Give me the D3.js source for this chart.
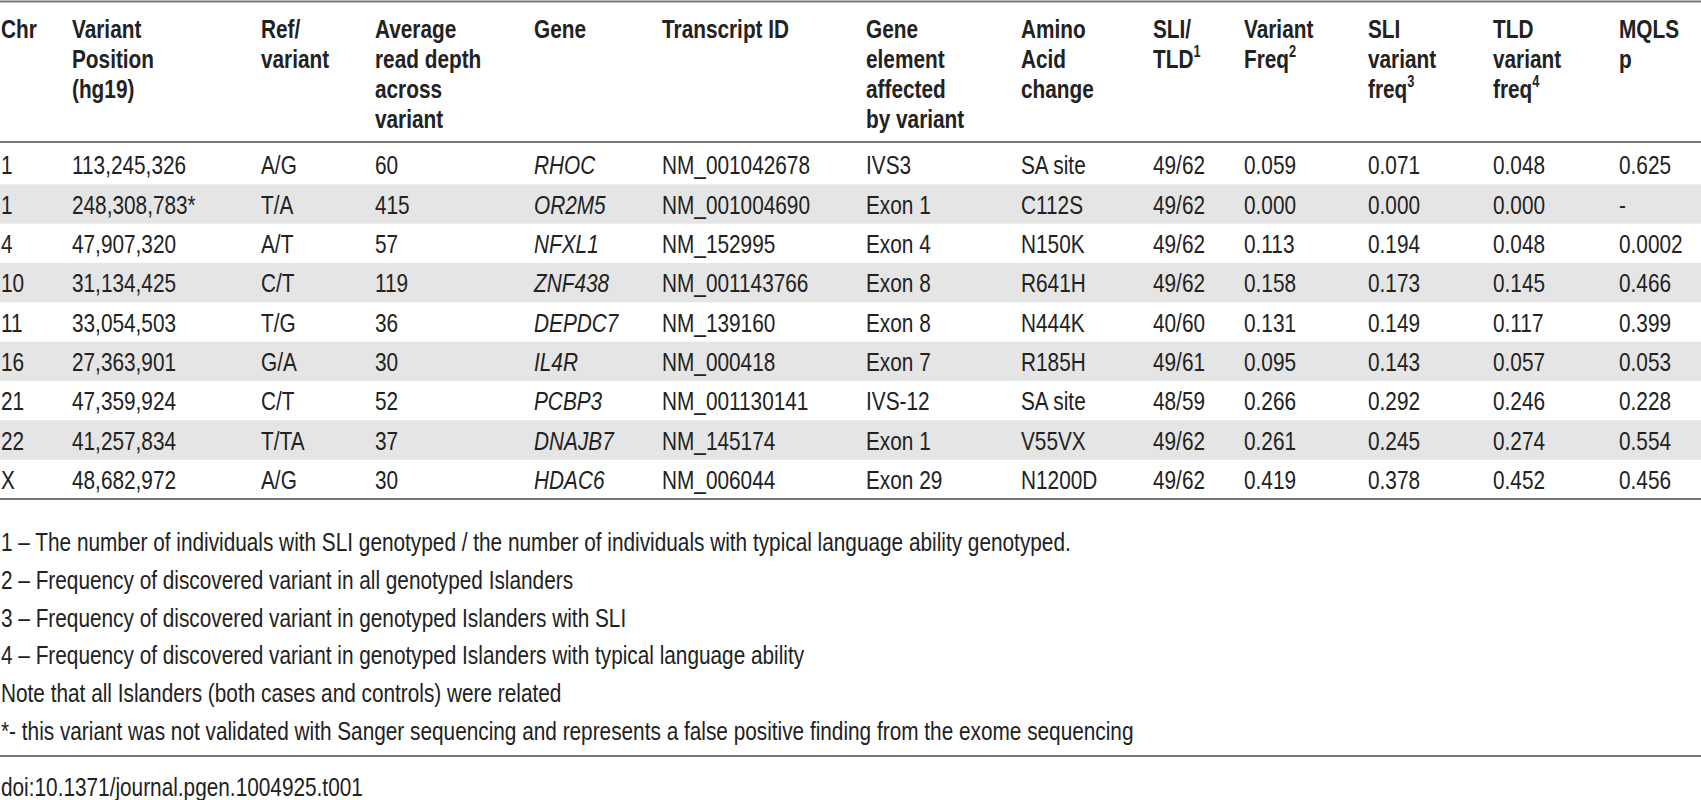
<!DOCTYPE html><html><head><meta charset="utf-8">
<script src="https://cdn.jsdelivr.net/npm/d3@7"></script>
<style>body{margin:0;background:#fff}text{font-family:"Liberation Sans",Arial,sans-serif;font-size:26px;fill:#222}</style></head><body>
<svg id="s" width="1701" height="800"></svg>
<script>
const headers=[["Chr"],["Variant","Position","(hg19)"],["Ref/","variant"],["Average","read depth","across","variant"],["Gene"],["Transcript ID"],["Gene","element","affected","by variant"],["Amino","Acid","change"],["SLI/","TLD^1"],["Variant","Freq^2"],["SLI","variant","freq^3"],["TLD","variant","freq^4"],["MQLS","p"]];
const chr=["1","1","4","10","11","16","21","22","X"];
const pos=["113,245,326","248,308,783*","47,907,320","31,134,425","33,054,503","27,363,901","47,359,924","41,257,834","48,682,972"];
const refv=["A/G","T/A","A/T","C/T","T/G","G/A","C/T","T/TA","A/G"];
const depth=["60","415","57","119","36","30","52","37","30"];
const gene=["RHOC","OR2M5","NFXL1","ZNF438","DEPDC7","IL4R","PCBP3","DNAJB7","HDAC6"];
const transcript=["NM_001042678","NM_001004690","NM_152995","NM_001143766","NM_139160","NM_000418","NM_001130141","NM_145174","NM_006044"];
const element=["IVS3","Exon 1","Exon 4","Exon 8","Exon 8","Exon 7","IVS-12","Exon 1","Exon 29"];
const aa=["SA site","C112S","N150K","R641H","N444K","R185H","SA site","V55VX","N1200D"];
const slitld=["49/62","49/62","49/62","49/62","40/60","49/61","48/59","49/62","49/62"];
const vfreq=["0.059","0.000","0.113","0.158","0.131","0.095","0.266","0.261","0.419"];
const slifreq=["0.071","0.000","0.194","0.173","0.149","0.143","0.292","0.245","0.378"];
const tldfreq=["0.048","0.000","0.048","0.145","0.117","0.057","0.246","0.274","0.452"];
const mqls=["0.625","-","0.0002","0.466","0.399","0.053","0.228","0.554","0.456"];
const notes=["1 – The number of individuals with SLI genotyped / the number of individuals with typical language ability genotyped.","2 – Frequency of discovered variant in all genotyped Islanders","3 – Frequency of discovered variant in genotyped Islanders with SLI","4 – Frequency of discovered variant in genotyped Islanders with typical language ability","Note that all Islanders (both cases and controls) were related","*- this variant was not validated with Sanger sequencing and represents a false positive finding from the exome sequencing"];
const doi="doi:10.1371/journal.pgen.1004925.t001";
const cols=[chr,pos,refv,depth,gene,transcript,element,aa,slitld,vfreq,slifreq,tldfreq,mqls];
const colX=[1,72,261,375,534,662,866,1021,1153,1244,1368,1493,1619];
const SX=0.8;
const svg=d3.select("#s");
const W=1701;
const y=d3.scaleBand().domain(d3.range(9)).range([145,499]);
svg.selectAll("rect.r").data(d3.range(9).filter(i=>i%2==1)).join("rect")
 .attr("x",0).attr("width",W).attr("y",i=>y(i)).attr("height",y.bandwidth()).attr("fill","#e5e5e5");
const line=(yy)=>svg.append("line").attr("x1",0).attr("x2",W).attr("y1",yy).attr("y2",yy).attr("stroke","#777").attr("stroke-width",2);
line(1.5);line(142);line(499);line(756);
const txt=(x,yy)=>svg.append("text").attr("transform",`translate(${x},${yy}) scale(${SX},1)`);
headers.forEach((h,c)=>{
 h.forEach((l,k)=>{
  const t=txt(colX[c],38+k*30).attr("font-weight","bold");
  const p=l.split("^");t.append("tspan").text(p[0]);
  if(p[1])t.append("tspan").attr("font-size","16px").attr("dy",-11).text(p[1]);
 });
});
cols.forEach((col,c)=>{
 col.forEach((d,i)=>{txt(colX[c],y(i)+y.bandwidth()/2+9.5).attr("font-style",c==4?"italic":null).text(d);});
});
notes.forEach((d,i)=>txt(1,551+i*37.8).text(d));
txt(1,796).text(doi);
</script></body></html>
